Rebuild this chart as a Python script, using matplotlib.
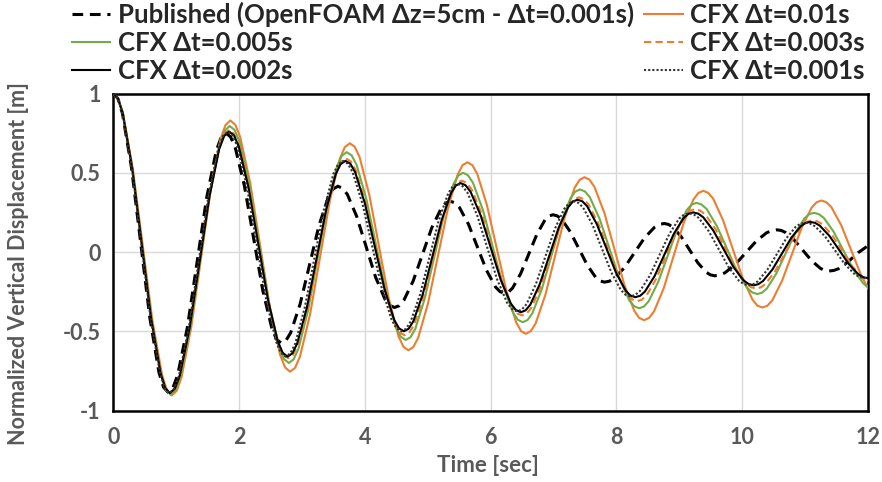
import matplotlib
matplotlib.use('Agg')
import matplotlib.pyplot as plt

# time [s] and normalized vertical displacement, one row per half swing
t_pub = [0,
         0.073, 0.145, 0.29, 0.435, 0.58, 0.725, 0.798, 0.87,
         0.947, 1.023, 1.177, 1.33, 1.483, 1.637, 1.713, 1.79,
         1.863, 1.937, 2.083, 2.23, 2.377, 2.523, 2.597, 2.67,
         2.745, 2.82, 2.97, 3.12, 3.27, 3.42, 3.495, 3.57,
         3.645, 3.72, 3.87, 4.02, 4.17, 4.32, 4.395, 4.47,
         4.544, 4.618, 4.767, 4.915, 5.063, 5.212, 5.286, 5.36,
         5.432, 5.503, 5.647, 5.79, 5.933, 6.077, 6.148, 6.22,
         6.284, 6.348, 6.477, 6.605, 6.733, 6.862, 6.926, 6.99,
         7.058, 7.127, 7.263, 7.40, 7.537, 7.673, 7.742, 7.81,
         7.889, 7.968, 8.127, 8.285, 8.443, 8.602, 8.681, 8.76,
         8.827, 8.893, 9.027, 9.16, 9.293, 9.427, 9.493, 9.56,
         9.643, 9.725, 9.89, 10.055, 10.22, 10.385, 10.468, 10.55,
         10.619, 10.688, 10.827, 10.965, 11.103, 11.242, 11.311, 11.38,
         11.457, 11.533, 11.687, 11.84, 12.0]
y_pub = [1.0,
         0.968, 0.874, 0.529, 0.058, -0.414, -0.759, -0.853, -0.885,
         -0.857, -0.776, -0.476, -0.068, 0.341, 0.640, 0.722, 0.75,
         0.727, 0.661, 0.419, 0.088, -0.244, -0.486, -0.552, -0.575,
         -0.558, -0.509, -0.328, -0.08, 0.168, 0.349, 0.398, 0.415,
         0.402, 0.364, 0.224, 0.033, -0.159, -0.299, -0.337, -0.35,
         -0.339, -0.305, -0.183, -0.015, 0.153, 0.275, 0.309, 0.32,
         0.31, 0.281, 0.175, 0.03, -0.115, -0.221, -0.250, -0.26,
         -0.252, -0.227, -0.136, -0.013, 0.111, 0.202, 0.227, 0.235,
         0.228, 0.207, 0.129, 0.023, -0.084, -0.162, -0.183, -0.19,
         -0.184, -0.165, -0.098, -0.005, 0.088, 0.155, 0.174, 0.18,
         0.174, 0.158, 0.098, 0.015, -0.068, -0.128, -0.144, -0.15,
         -0.145, -0.131, -0.078, -0.005, 0.068, 0.121, 0.135, 0.14,
         0.136, 0.123, 0.075, 0.01, -0.055, -0.103, -0.116, -0.12,
         -0.116, -0.105, -0.06, -0.005, 0.04]

t_010 = [0,
         0.078, 0.155, 0.31, 0.465, 0.62, 0.775, 0.853, 0.93,
         1.008, 1.085, 1.24, 1.395, 1.55, 1.705, 1.783, 1.86,
         1.939, 2.018, 2.177, 2.335, 2.493, 2.652, 2.731, 2.81,
         2.889, 2.968, 3.127, 3.285, 3.443, 3.602, 3.681, 3.76,
         3.838, 3.915, 4.07, 4.225, 4.38, 4.535, 4.613, 4.69,
         4.768, 4.847, 5.003, 5.16, 5.317, 5.473, 5.552, 5.63,
         5.708, 5.785, 5.94, 6.095, 6.25, 6.405, 6.483, 6.56,
         6.638, 6.715, 6.87, 7.025, 7.18, 7.335, 7.413, 7.49,
         7.569, 7.648, 7.807, 7.965, 8.123, 8.282, 8.361, 8.44,
         8.518, 8.597, 8.753, 8.91, 9.067, 9.223, 9.302, 9.38,
         9.458, 9.537, 9.693, 9.85, 10.007, 10.163, 10.242, 10.32,
         10.398, 10.477, 10.633, 10.79, 10.947, 11.103, 11.182, 11.26,
         11.338, 11.417, 11.573, 11.73, 11.887, 12.0]
y_010 = [1.0,
         0.968, 0.872, 0.524, 0.048, -0.429, -0.777, -0.873, -0.905,
         -0.876, -0.789, -0.471, -0.038, 0.396, 0.714, 0.801, 0.83,
         0.803, 0.724, 0.434, 0.038, -0.359, -0.649, -0.728, -0.755,
         -0.731, -0.659, -0.395, -0.035, 0.326, 0.590, 0.662, 0.686,
         0.664, 0.599, 0.360, 0.033, -0.294, -0.533, -0.598, -0.62,
         -0.60, -0.541, -0.324, -0.027, 0.270, 0.487, 0.548, 0.566,
         0.548, 0.494, 0.296, 0.025, -0.246, -0.444, -0.499, -0.516,
         -0.499, -0.450, -0.269, -0.022, 0.225, 0.406, 0.455, 0.472,
         0.457, 0.412, 0.247, 0.021, -0.205, -0.370, -0.416, -0.43,
         -0.416, -0.375, -0.226, -0.022, 0.182, 0.331, 0.373, 0.386,
         0.373, 0.337, 0.202, 0.018, -0.166, -0.301, -0.339, -0.35,
         -0.339, -0.305, -0.181, -0.013, 0.156, 0.280, 0.314, 0.325,
         0.314, 0.283, 0.169, 0.013, -0.144, -0.23]

t_005 = [0,
         0.076, 0.152, 0.303, 0.455, 0.607, 0.758, 0.834, 0.91,
         0.988, 1.067, 1.223, 1.38, 1.537, 1.693, 1.772, 1.85,
         1.928, 2.007, 2.163, 2.32, 2.477, 2.633, 2.712, 2.79,
         2.867, 2.943, 3.097, 3.25, 3.403, 3.557, 3.633, 3.71,
         3.788, 3.867, 4.023, 4.18, 4.337, 4.493, 4.572, 4.65,
         4.726, 4.802, 4.953, 5.105, 5.257, 5.408, 5.484, 5.56,
         5.639, 5.718, 5.877, 6.035, 6.193, 6.352, 6.431, 6.51,
         6.586, 6.662, 6.813, 6.965, 7.117, 7.268, 7.344, 7.42,
         7.498, 7.577, 7.733, 7.89, 8.047, 8.203, 8.282, 8.36,
         8.436, 8.512, 8.663, 8.815, 8.967, 9.118, 9.194, 9.27,
         9.351, 9.432, 9.593, 9.755, 9.917, 10.078, 10.159, 10.24,
         10.315, 10.39, 10.54, 10.69, 10.84, 10.99, 11.065, 11.14,
         11.218, 11.297, 11.453, 11.61, 11.767, 11.923, 12.0]
y_005 = [1.0,
         0.968, 0.873, 0.525, 0.05, -0.425, -0.773, -0.868, -0.90,
         -0.871, -0.786, -0.476, -0.053, 0.371, 0.681, 0.766, 0.795,
         0.770, 0.695, 0.421, 0.048, -0.326, -0.600, -0.675, -0.70,
         -0.677, -0.611, -0.368, -0.035, 0.298, 0.541, 0.607, 0.63,
         0.610, 0.551, 0.334, 0.038, -0.259, -0.476, -0.535, -0.555,
         -0.537, -0.484, -0.291, -0.028, 0.236, 0.429, 0.482, 0.50,
         0.484, 0.437, 0.264, 0.029, -0.207, -0.380, -0.427, -0.443,
         -0.429, -0.387, -0.234, -0.024, 0.186, 0.339, 0.381, 0.395,
         0.382, 0.345, 0.208, 0.02, -0.168, -0.305, -0.342, -0.355,
         -0.344, -0.311, -0.189, -0.023, 0.144, 0.265, 0.299, 0.31,
         0.30, 0.272, 0.166, 0.023, -0.121, -0.227, -0.255, -0.265,
         -0.256, -0.231, -0.137, -0.009, 0.119, 0.213, 0.239, 0.247,
         0.239, 0.215, 0.128, 0.009, -0.111, -0.198, -0.222]

t_003 = [0,
         0.075, 0.15, 0.30, 0.45, 0.60, 0.75, 0.825, 0.90,
         0.978, 1.057, 1.213, 1.37, 1.527, 1.683, 1.762, 1.84,
         1.918, 1.997, 2.153, 2.31, 2.467, 2.623, 2.702, 2.78,
         2.857, 2.933, 3.087, 3.24, 3.393, 3.547, 3.623, 3.70,
         3.778, 3.855, 4.01, 4.165, 4.32, 4.475, 4.553, 4.63,
         4.706, 4.782, 4.933, 5.085, 5.237, 5.388, 5.464, 5.54,
         5.62, 5.70, 5.86, 6.02, 6.18, 6.34, 6.42, 6.50,
         6.575, 6.65, 6.80, 6.95, 7.10, 7.25, 7.325, 7.40,
         7.478, 7.555, 7.71, 7.865, 8.02, 8.175, 8.253, 8.33,
         8.407, 8.483, 8.637, 8.79, 8.943, 9.097, 9.173, 9.25,
         9.331, 9.412, 9.573, 9.735, 9.897, 10.058, 10.139, 10.22,
         10.295, 10.37, 10.52, 10.67, 10.82, 10.97, 11.045, 11.12,
         11.198, 11.277, 11.433, 11.59, 11.747, 11.903, 12.0]
y_003 = [1.0,
         0.968, 0.873, 0.528, 0.055, -0.418, -0.763, -0.858, -0.89,
         -0.862, -0.779, -0.475, -0.06, 0.355, 0.659, 0.746, 0.77,
         0.746, 0.674, 0.41, 0.05, -0.31, -0.574, -0.649, -0.67,
         -0.649, -0.586, -0.355, -0.04, 0.275, 0.506, 0.571, 0.59,
         0.571, 0.515, 0.311, 0.033, -0.246, -0.450, -0.508, -0.525,
         -0.508, -0.460, -0.281, -0.038, 0.206, 0.385, 0.436, 0.45,
         0.436, 0.393, 0.238, 0.025, -0.188, -0.343, -0.387, -0.40,
         -0.387, -0.350, -0.214, -0.028, 0.159, 0.295, 0.334, 0.345,
         0.334, 0.301, 0.181, 0.018, -0.146, -0.266, -0.30, -0.31,
         -0.30, -0.271, -0.165, -0.02, 0.125, 0.231, 0.261, 0.27,
         0.261, 0.237, 0.145, 0.02, -0.105, -0.197, -0.222, -0.23,
         -0.223, -0.201, -0.123, -0.015, 0.093, 0.171, 0.193, 0.20,
         0.193, 0.174, 0.104, 0.008, -0.089, -0.159, -0.18]

t_002 = [0,
         0.075, 0.15, 0.30, 0.45, 0.60, 0.75, 0.825, 0.90,
         0.978, 1.057, 1.213, 1.37, 1.527, 1.683, 1.762, 1.84,
         1.918, 1.995, 2.15, 2.305, 2.46, 2.615, 2.693, 2.77,
         2.847, 2.923, 3.077, 3.23, 3.383, 3.537, 3.613, 3.69,
         3.768, 3.845, 4.0, 4.155, 4.31, 4.465, 4.543, 4.62,
         4.695, 4.77, 4.92, 5.07, 5.22, 5.37, 5.445, 5.52,
         5.60, 5.68, 5.84, 6.0, 6.16, 6.32, 6.40, 6.48,
         6.555, 6.63, 6.78, 6.93, 7.08, 7.23, 7.305, 7.38,
         7.457, 7.533, 7.687, 7.84, 7.993, 8.147, 8.223, 8.30,
         8.377, 8.453, 8.607, 8.76, 8.913, 9.067, 9.143, 9.22,
         9.30, 9.38, 9.54, 9.70, 9.86, 10.02, 10.10, 10.18,
         10.255, 10.33, 10.48, 10.63, 10.78, 10.93, 11.005, 11.08,
         11.157, 11.233, 11.387, 11.54, 11.693, 11.847, 11.923, 12.0]
y_002 = [1.0,
         0.968, 0.873, 0.528, 0.055, -0.418, -0.763, -0.858, -0.89,
         -0.862, -0.779, -0.478, -0.065, 0.348, 0.649, 0.732, 0.76,
         0.736, 0.665, 0.405, 0.05, -0.305, -0.565, -0.636, -0.66,
         -0.639, -0.577, -0.351, -0.043, 0.266, 0.492, 0.554, 0.575,
         0.557, 0.503, 0.306, 0.038, -0.231, -0.428, -0.482, -0.50,
         -0.484, -0.437, -0.266, -0.033, 0.201, 0.372, 0.419, 0.435,
         0.421, 0.380, 0.231, 0.028, -0.176, -0.325, -0.366, -0.38,
         -0.368, -0.332, -0.203, -0.025, 0.153, 0.282, 0.318, 0.33,
         0.32, 0.289, 0.176, 0.023, -0.131, -0.244, -0.275, -0.285,
         -0.276, -0.249, -0.151, -0.018, 0.116, 0.214, 0.241, 0.25,
         0.242, 0.219, 0.135, 0.02, -0.095, -0.179, -0.202, -0.21,
         -0.203, -0.183, -0.11, -0.01, 0.09, 0.163, 0.183, 0.19,
         0.184, 0.166, 0.101, 0.013, -0.076, -0.141, -0.159, -0.165]

t_001 = [0,
         0.074, 0.148, 0.297, 0.445, 0.593, 0.742, 0.816, 0.89,
         0.968, 1.045, 1.20, 1.355, 1.51, 1.665, 1.743, 1.82,
         1.897, 1.973, 2.127, 2.28, 2.433, 2.587, 2.663, 2.74,
         2.816, 2.892, 3.043, 3.195, 3.347, 3.498, 3.574, 3.65,
         3.728, 3.805, 3.96, 4.115, 4.27, 4.425, 4.503, 4.58,
         4.654, 4.728, 4.877, 5.025, 5.173, 5.322, 5.396, 5.47,
         5.549, 5.628, 5.787, 5.945, 6.103, 6.262, 6.341, 6.42,
         6.495, 6.57, 6.72, 6.87, 7.02, 7.17, 7.245, 7.32,
         7.395, 7.47, 7.62, 7.77, 7.92, 8.07, 8.145, 8.22,
         8.298, 8.375, 8.53, 8.685, 8.84, 8.995, 9.073, 9.15,
         9.229, 9.308, 9.467, 9.625, 9.783, 9.942, 10.021, 10.10,
         10.175, 10.25, 10.40, 10.55, 10.70, 10.85, 10.925, 11.00,
         11.079, 11.158, 11.317, 11.475, 11.633, 11.792, 11.871, 11.95,
         12.0]
y_001 = [1.0,
         0.968, 0.873, 0.528, 0.055, -0.418, -0.763, -0.858, -0.89,
         -0.862, -0.779, -0.478, -0.065, 0.348, 0.649, 0.732, 0.76,
         0.736, 0.665, 0.405, 0.05, -0.305, -0.565, -0.636, -0.66,
         -0.639, -0.577, -0.351, -0.043, 0.266, 0.492, 0.554, 0.575,
         0.557, 0.503, 0.306, 0.038, -0.231, -0.428, -0.482, -0.50,
         -0.484, -0.438, -0.268, -0.035, 0.198, 0.368, 0.414, 0.43,
         0.416, 0.376, 0.229, 0.028, -0.174, -0.321, -0.361, -0.375,
         -0.363, -0.329, -0.201, -0.028, 0.146, 0.273, 0.308, 0.32,
         0.31, 0.28, 0.17, 0.02, -0.13, -0.24, -0.27, -0.28,
         -0.271, -0.245, -0.149, -0.018, 0.114, 0.210, 0.236, 0.245,
         0.237, 0.215, 0.131, 0.018, -0.096, -0.179, -0.202, -0.21,
         -0.203, -0.184, -0.111, -0.013, 0.086, 0.159, 0.179, 0.185,
         0.179, 0.162, 0.098, 0.01, -0.078, -0.142, -0.159, -0.165,
         -0.163]

x_ticks = [0, 2, 4, 6, 8, 10, 12]
y_ticks = [-1, -0.5, 0, 0.5, 1]
y_tick_labels = ['-1', '-0.5', '0', '0.5', '1']

plt.rcParams['font.family'] = ['Lato', 'DejaVu Sans']
plt.rcParams['font.weight'] = 'bold'
plt.rcParams['axes.labelweight'] = 'bold'

grey = '#595959'
orange = '#ED7D31'
green = '#70AD47'

fig = plt.figure(figsize=(8.82, 4.82), dpi=100)
ax = fig.add_axes([0.1285, 0.1483, 0.8557, 0.6577])

l_pub, = ax.plot(t_pub, y_pub, color='black', lw=2.2, ls=(0, (3.5, 2.2)),
                 label='Published (OpenFOAM Δz=5cm - Δt=0.001s)', zorder=3)
l_010, = ax.plot(t_010, y_010, color=orange, lw=1.5, label='CFX Δt=0.01s', zorder=4)
l_005, = ax.plot(t_005, y_005, color=green, lw=1.5, label='CFX Δt=0.005s', zorder=5)
l_003, = ax.plot(t_003, y_003, color=orange, lw=1.5, ls=(0, (3.5, 2)),
                 label='CFX Δt=0.003s', zorder=6)
l_002, = ax.plot(t_002, y_002, color='black', lw=1.5, label='CFX Δt=0.002s', zorder=7)
l_001, = ax.plot(t_001, y_001, color='#333333', lw=1.5, ls=(0, (1, 1)),
                 label='CFX Δt=0.001s', zorder=8)

ax.set_xlim(0, 12)
ax.set_ylim(-1, 1)
ax.set_xticks(x_ticks)
ax.set_yticks(y_ticks)
ax.set_yticklabels(y_tick_labels)
for lab in ax.get_xticklabels() + ax.get_yticklabels():
    lab.set_fontweight('bold')
ax.grid(color='#d9d9d9', lw=1.0)
ax.set_axisbelow(True)
for s in ax.spines.values():
    s.set_linewidth(1.8)
    s.set_color('black')
ax.tick_params(axis='both', length=0, labelsize=15.5, labelcolor=grey)
ax.tick_params(axis='x', pad=12)
ax.tick_params(axis='y', pad=9)

ax.set_xlabel('Time [sec]', fontsize=16, color=grey, fontweight='bold')
ax.set_ylabel('Normalized Vertical Displacement [m]', fontsize=15.5, color=grey,
              fontweight='bold')
ax.xaxis.set_label_coords(0.496, -0.14)
ax.yaxis.set_label_coords(-0.112, 0.462)

handles = [l_pub, l_005, l_002, l_010, l_003, l_001]
fig.legend(handles=handles, labels=[h.get_label() for h in handles],
           ncol=2, loc='center', bbox_to_anchor=(0.531, 0.912), frameon=False,
           prop={'size': 18.5, 'weight': 'bold'}, labelcolor='#262626',
           handlelength=1.5, handletextpad=0.3, columnspacing=0.4,
           labelspacing=0.16, borderpad=0)

fig.savefig('out.png', dpi=100)
